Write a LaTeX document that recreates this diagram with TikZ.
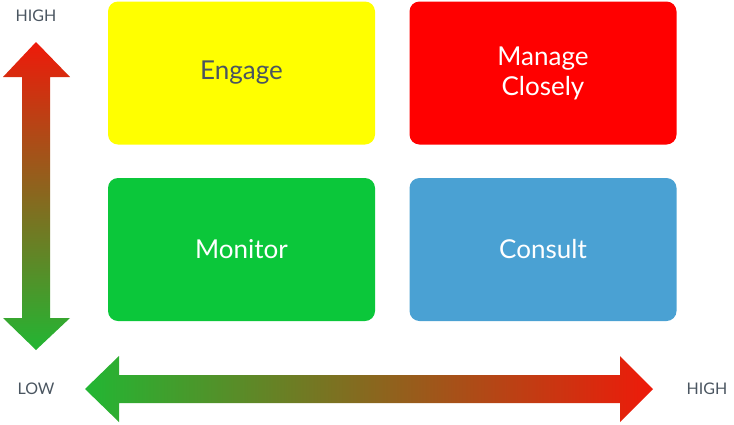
\documentclass[tikz,border=0pt]{standalone}
\usepackage{fontspec}
\setmainfont{Lato}
\definecolor{boxyellow}{HTML}{FFFF00}
\definecolor{boxred}{HTML}{FF0000}
\definecolor{boxgreen}{HTML}{0BC73A}
\definecolor{boxblue}{HTML}{4AA1D3}
\definecolor{labelgray}{HTML}{4A5560}
\definecolor{arrowred}{HTML}{EE1A0A}
\definecolor{arrowgreen}{HTML}{22B633}
\tikzset{
  quad/.style={rounded corners=10pt, minimum width=267pt, minimum height=143pt,
    align=center, font=\fontsize{26}{30}\selectfont, text=white, inner sep=0pt},
  axislabel/.style={font=\fontsize{16}{18}\selectfont, text=labelgray}
}
\begin{document}
\begin{tikzpicture}[x=1pt,y=-1pt]
    \useasboundingbox (0,0) rectangle (734,424);
    % Quadrants
    \node[quad, fill=boxyellow, text=labelgray] (engage) at (241.5,73) {Engage};
    \node[quad, fill=boxred] (manage) at (543,73) {Manage\\Closely};
    \node[quad, fill=boxgreen] (monitor) at (241.5,249.5) {Monitor};
    \node[quad, fill=boxblue] (consult) at (543,249.5) {Consult};
    % Vertical axis
    \shade[top color=arrowred, bottom color=arrowgreen]
      (36,42) -- (70,77) -- (50,77) -- (50,318) -- (70,318) -- (36,350)
      -- (3,318) -- (22,318) -- (22,77) -- (3,77) -- cycle;
    % Horizontal axis
    \shade[left color=arrowgreen, right color=arrowred]
      (85,389) -- (119,356) -- (119,375) -- (620,375) -- (620,356) -- (653,389)
      -- (620,422) -- (620,403) -- (119,403) -- (119,422) -- cycle;
    % Labels
    \node[axislabel] (yhigh) at (36,16) {HIGH};
    \node[axislabel] (low) at (36,389) {LOW};
    \node[axislabel] (xhigh) at (707,389) {HIGH};
\end{tikzpicture}
\end{document}
